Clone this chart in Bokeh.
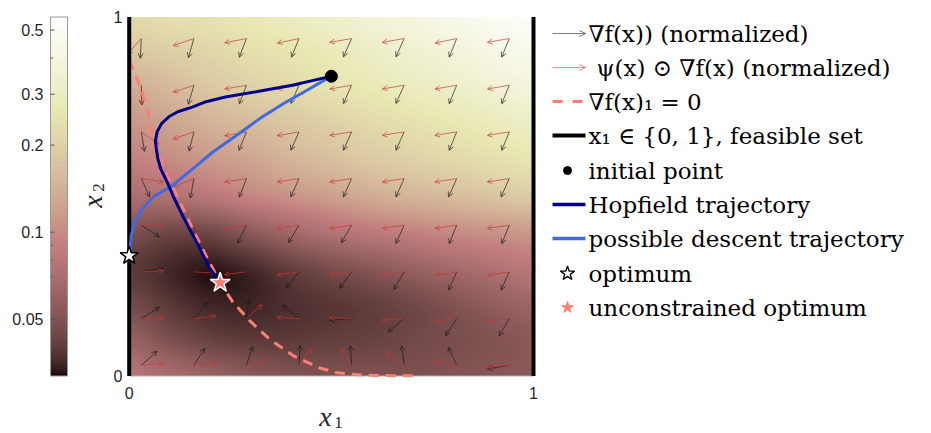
import numpy as np
from bokeh.plotting import figure
from bokeh.models import Range1d, Arrow, OpenHead, ColumnDataSource
from bokeh.core.properties import value
from bokeh.embed import file_html
from bokeh.resources import INLINE

# ---------------- data ----------------
GRID_NODES = [0.0, 0.1, 0.2, 0.3, 0.4, 0.5, 0.6, 0.7, 0.8, 0.9, 1.0]
# f(x) on the grid, rows from x2 = 1.0 (top) down to x2 = 0.0, columns x1 = 0 .. 1
F_GRID = [
    [0.222, 0.235, 0.249, 0.271, 0.296, 0.331, 0.361, 0.394, 0.442, 0.481, 0.524],
    [0.177, 0.192, 0.210, 0.235, 0.256, 0.279, 0.313, 0.341, 0.372, 0.417, 0.454],
    [0.133, 0.153, 0.177, 0.198, 0.222, 0.249, 0.271, 0.296, 0.322, 0.351, 0.383],
    [0.109, 0.122, 0.141, 0.157, 0.177, 0.198, 0.222, 0.242, 0.264, 0.287, 0.313],
    [0.0916, 0.0998, 0.112, 0.125, 0.145, 0.162, 0.182, 0.198, 0.216, 0.235, 0.256],
    [0.0708, 0.0749, 0.0817, 0.0942, 0.106, 0.118, 0.133, 0.145, 0.157, 0.172, 0.187],
    [0.0488, 0.0440, 0.0448, 0.0540, 0.0650, 0.0760, 0.0840, 0.0916, 0.0998, 0.106, 0.112],
    [0.0400, 0.0355, 0.0330, 0.0356, 0.0415, 0.0474, 0.0532, 0.0596, 0.0668, 0.0749, 0.0840],
    [0.0461, 0.0390, 0.0350, 0.0348, 0.0370, 0.0388, 0.0411, 0.0448, 0.0502, 0.0562, 0.0631],
    [0.0596, 0.0488, 0.0423, 0.0399, 0.0399, 0.0411, 0.0423, 0.0448, 0.0474, 0.0502, 0.0532],
    [0.0793, 0.0688, 0.0596, 0.0532, 0.0502, 0.0488, 0.0488, 0.0488, 0.0502, 0.0517, 0.0532],
]
CBAR_MIN, CBAR_MAX = 0.0318, 0.555
CBAR_TICKS = [0.05, 0.1, 0.2, 0.3, 0.5]
CBAR_TICK_LABELS = ["0.05", "0.1", "0.2", "0.3", "0.5"]
CBAR_MINOR = [0.04, 0.06, 0.07, 0.08, 0.09, 0.4]

# quiver grid (same positions for x1 and x2)
Q_POS = [0.03, 0.16, 0.29, 0.42, 0.55, 0.68, 0.81, 0.94]
# arrow directions in degrees (counter-clockwise from +x1), rows from x2 = 0.94 down to 0.03
GRAD_ANGLE = [
    [-93, -106, -111, -112, -114, -114, -112, -112],
    [-88, -106, -111, -114, -114, -114, -112, -112],
    [-81, -104, -112, -114, -114, -114, -112, -112],
    [-66, -100, -111, -114, -114, -114, -114, -114],
    [-33, -80, -116, -121, -120, -114, -112, -112],
    [8, -15, -129, -129, -126, -120, -114, -114],
    [32, 50, 82, 141, -175, -140, -123, -120],
    [42, 57, 72, 87, 93, 97, 115, -170],
]
PSI_ANGLE = [
    [-131, -161, -169, -168, -170, -170, -168, -170],
    [-90, -161, -170, -170, -170, -170, -170, -170],
    [-35, -161, -170, -170, -171, -171, -171, -171],
    [-9, -158, -171, -171, -171, -171, -171, -171],
    [0, -75, -171, -172, -172, -172, -172, -172],
    [3, -3, -173, -172, -173, -171, -171, -171],
    [2, 7, 42, 177, 178, -176, -173, -173],
    [4, 6, 16, 55, 123, 147, 171, -175],
]
ARROW_LEN = 0.055

HOP_X1 = [0.500, 0.450, 0.403, 0.321, 0.238, 0.190, 0.156, 0.120, 0.098, 0.080, 0.069, 0.065,
          0.067, 0.071, 0.078, 0.094, 0.110, 0.136, 0.169, 0.198, 0.225]
HOP_X2 = [0.835, 0.822, 0.810, 0.793, 0.777, 0.764, 0.749, 0.736, 0.722, 0.703, 0.680, 0.655,
          0.633, 0.605, 0.577, 0.540, 0.498, 0.438, 0.368, 0.302, 0.260]
DESC_X1 = [0.500, 0.469, 0.440, 0.382, 0.323, 0.265, 0.207, 0.157, 0.107, 0.061,
           0.032, 0.013, 0.005, 0.002, 0.000]
DESC_X2 = [0.835, 0.815, 0.796, 0.759, 0.717, 0.670, 0.624, 0.577, 0.531, 0.500,
           0.466, 0.428, 0.391, 0.354, 0.335]
DASH_X1 = [0.000, 0.028, 0.047, 0.057, 0.098, 0.157, 0.190, 0.225, 0.257, 0.298,
           0.348, 0.407, 0.469, 0.515, 0.580, 0.650, 0.710]
DASH_X2 = [0.880, 0.805, 0.735, 0.656, 0.549, 0.410, 0.335, 0.260, 0.205, 0.154,
           0.102, 0.056, 0.023, 0.009, 0.002, 0.001, 0.001]
INIT_PT = (0.5, 0.835)
OPT_PT = (0.0, 0.335)
UNC_OPT_PT = (0.225, 0.26)
FEASIBLE_X1 = [0.0, 1.0]

LEGEND_LABELS = [
    "\u2207f(x)) (normalized)",
    "\u03c8(x) \u2299 \u2207f(x) (normalized)",
    "\u2207f(x)\u2081 = 0",
    "x\u2081 \u2208 {0, 1}, feasible set",
    "initial point",
    "Hopfield trajectory",
    "possible descent trajectory",
    "optimum",
    "unconstrained optimum",
]

# ---------------- styles ----------------
NAVY = "#00008b"
ROYAL = "#4169e1"
SALMON = "#fa8072"
ARROW_BLACK = "#1a1a1a"
ARROW_RED = "#c83737"
SERIF = value("DejaVu Serif")
ITALIC_SERIF = value("Liberation Serif")
SANS = value("Liberation Sans")

# canvas geometry: x1=0 at px 128.7, x1=1 at px 533; x2=0 at px 375.5, x2=1 at px 16.5
PX_X0, PX_PER_X = 128.7, 404.3
PX_Y0, PX_PER_Y = 375.5, 359.0
W, H = 931, 433


def dx(px):
    return (px - PX_X0) / PX_PER_X


def dy(py):
    return (PX_Y0 - py) / PX_PER_Y


def matlab_pink(m=64):
    n = int(3 * m / 8)
    r = np.concatenate([np.arange(1, n + 1) / n, np.ones(m - n)])
    g = np.concatenate([np.zeros(n), np.arange(1, n + 1) / n, np.ones(m - 2 * n)])
    b = np.concatenate([np.zeros(2 * n), np.arange(1, m - 2 * n + 1) / (m - 2 * n)])
    gray = np.linspace(0, 1, m)
    hot = np.stack([r, g, b], axis=1)
    return np.sqrt((2 * gray[:, None] + hot) / 3)


CMAP64 = matlab_pink(64)
_pos64 = np.linspace(0, 1, 64)
_pos = np.linspace(0, 1, 512)
CMAP = np.stack([np.interp(_pos, _pos64, CMAP64[:, k]) for k in range(3)], axis=1)


def to_rgba(tvals):
    idx = np.clip(np.round(tvals * 511).astype(int), 0, 511)
    rgb = (CMAP[idx] * 255).round().astype(np.uint8)
    out = np.empty(tvals.shape, dtype=np.uint32)
    v = out.view(dtype=np.uint8).reshape(tvals.shape + (4,))
    v[..., :3] = rgb
    v[..., 3] = 255
    return out


def cubic_matrix(n_nodes, n_out):
    # shading-interp style smooth resampling of the grid for display
    u = (np.arange(n_out) + 0.5) / n_out * (n_nodes - 1)
    i = np.clip(np.floor(u).astype(int), 0, n_nodes - 2)
    s = u - i
    w = [(-s**3 + 2 * s**2 - s) / 2, (3 * s**3 - 5 * s**2 + 2) / 2,
         (-3 * s**3 + 4 * s**2 + s) / 2, (s**3 - s**2) / 2]
    M = np.zeros((n_out, n_nodes))
    rows = np.arange(n_out)
    for k, off in enumerate([-1, 0, 1, 2]):
        np.add.at(M, (rows, np.clip(i + off, 0, n_nodes - 1)), w[k])
    return M


lmin, lmax = np.log10(CBAR_MIN), np.log10(CBAR_MAX)


def tpos(v):
    return (np.log10(v) - lmin) / (lmax - lmin)


# ---------------- figure ----------------
p = figure(width=W, height=H, output_backend="svg", toolbar_location=None,
           x_range=Range1d(dx(0), dx(W)), y_range=Range1d(dy(H), dy(0)),
           x_axis_location=None, y_axis_location=None, min_border=0)
p.grid.visible = False
p.outline_line_color = None
p.background_fill_color = "white"
p.border_fill_color = "white"

# heat map
G = tpos(np.array(F_GRID)[::-1])
nx, ny = 404, 359
T = cubic_matrix(len(GRID_NODES), ny) @ G @ cubic_matrix(len(GRID_NODES), nx).T
T = np.clip(T, 0, 1)
p.image_rgba(image=[to_rgba(T)], x=GRID_NODES[0], y=GRID_NODES[0],
             dw=GRID_NODES[-1] - GRID_NODES[0], dh=GRID_NODES[-1] - GRID_NODES[0],
             level="image")

# bottom axis line
p.line(x=[0, 1], y=[0, 0], line_color="#b0b0b0", line_width=1)


# quiver arrows
def quiver(angles, color):
    xs, ys, xe, ye = [], [], [], []
    for r, row in enumerate(angles):
        for c, a in enumerate(row):
            th = np.deg2rad(a)
            vx, vy = np.cos(th) / PX_PER_X, np.sin(th) / PX_PER_Y
            nrm = np.hypot(vx, vy)
            x0, y0 = Q_POS[c], Q_POS[len(Q_POS) - 1 - r]
            xs.append(x0)
            ys.append(y0)
            xe.append(x0 + ARROW_LEN * vx / nrm)
            ye.append(y0 + ARROW_LEN * vy / nrm)
    src = ColumnDataSource(dict(xs=xs, ys=ys, xe=xe, ye=ye))
    p.add_layout(Arrow(end=OpenHead(size=5, line_color=color, line_width=0.8, line_alpha=0.85),
                       x_start="xs", y_start="ys", x_end="xe", y_end="ye", source=src,
                       line_color=color, line_width=0.8, line_alpha=0.85, level="underlay"))


quiver(GRAD_ANGLE, ARROW_BLACK)
quiver(PSI_ANGLE, ARROW_RED)

# dashed curve grad_1 = 0
p.line(DASH_X1, DASH_X2, line_color=SALMON, line_width=3, line_dash="10 7")

# feasible set
for xv in FEASIBLE_X1:
    p.line(x=[xv, xv], y=[0, 1], line_color="black", line_width=4)

# trajectories
p.line(DESC_X1, DESC_X2, line_color=ROYAL, line_width=3)
p.line(HOP_X1, HOP_X2, line_color=NAVY, line_width=3, line_join="round")

# markers
p.scatter([INIT_PT[0]], [INIT_PT[1]], marker="circle", size=12, fill_color="black", line_color="black")
p.scatter([OPT_PT[0]], [OPT_PT[1]], marker="star", size=19, fill_color="white", line_color="black", line_width=1.5)
p.scatter([UNC_OPT_PT[0]], [UNC_OPT_PT[1]], marker="star", size=21, fill_color=SALMON, line_color="white", line_width=1.5)

# main tick labels
tick_col = "#262626"
p.text(x=[dx(122), dx(122)], y=[1, 0], text=["1", "0"], text_font=SANS, text_font_size="16px",
       text_align="right", text_baseline="middle", text_color=tick_col)
p.text(x=[0, 1], y=[dy(392), dy(392)], text=["0", "1"], text_font=SANS, text_font_size="16px",
       text_align="center", text_baseline="middle", text_color=tick_col)

# axis labels
p.text(x=[dx(325)], y=[dy(416)], text=["x"], text_font=ITALIC_SERIF, text_font_style="italic",
       text_font_size="28px", text_align="center", text_baseline="middle", text_color=tick_col)
p.text(x=[dx(338)], y=[dy(422)], text=["1"], text_font=ITALIC_SERIF, text_font_size="17px",
       text_align="center", text_baseline="middle", text_color=tick_col)
p.text(x=[dx(92)], y=[dy(201)], text=["x"], text_font=ITALIC_SERIF, text_font_style="italic",
       text_font_size="28px", text_align="center", text_baseline="middle", angle=np.pi / 2,
       text_color=tick_col)
p.text(x=[dx(98)], y=[dy(187)], text=["2"], text_font=ITALIC_SERIF, text_font_size="17px",
       text_align="center", text_baseline="middle", angle=np.pi / 2, text_color=tick_col)

# colour bar
cb_l, cb_r = dx(50), dx(67)
cbar = to_rgba((np.arange(256)[:, None] + 0.5) / 256)
p.image_rgba(image=[cbar], x=cb_l, y=0, dw=cb_r - cb_l, dh=1, level="image")
p.quad(left=[cb_l], right=[cb_r], bottom=[0], top=[1], fill_color=None,
       line_color="#9a9a9a", line_width=1)
maj_y = [float(tpos(v)) for v in CBAR_TICKS]
min_y = [float(tpos(v)) for v in CBAR_MINOR]
p.segment(x0=[cb_l] * len(maj_y), x1=[cb_l + 4 / PX_PER_X] * len(maj_y), y0=maj_y, y1=maj_y,
          line_color="#555555", line_width=1)
p.segment(x0=[cb_l] * len(min_y), x1=[cb_l + 2.5 / PX_PER_X] * len(min_y), y0=min_y, y1=min_y,
          line_color="#666666", line_width=1)
p.text(x=[dx(43)] * len(maj_y), y=maj_y, text=CBAR_TICK_LABELS, text_font=SANS,
       text_font_size="16px", text_align="right", text_baseline="middle", text_color=tick_col)

# legend
rows_px = [33, 67, 101, 135, 170, 204, 238, 273, 307]
ry = [dy(v) for v in rows_px]
s0, s1, sc = dx(552), dx(585), dx(567)
tx = [dx(588)] * len(LEGEND_LABELS)
tx[1] = dx(596)
for k, col in enumerate([ARROW_BLACK, ARROW_RED]):
    src = ColumnDataSource(dict(xs=[s0], ys=[ry[k]], xe=[s1], ye=[ry[k]]))
    p.add_layout(Arrow(end=OpenHead(size=6, line_color=col, line_width=0.8, line_alpha=0.7),
                       x_start="xs", y_start="ys", x_end="xe", y_end="ye", source=src,
                       line_color=col, line_width=0.8, line_alpha=0.7))
p.line([s0, s1], [ry[2], ry[2]], line_color=SALMON, line_width=3, line_dash="10 10")
p.line([s0, s1], [ry[3], ry[3]], line_color="black", line_width=4)
p.scatter([sc], [ry[4]], marker="circle", size=8, fill_color="black", line_color="black")
p.line([s0, s1], [ry[5], ry[5]], line_color=NAVY, line_width=3.5)
p.line([s0, s1], [ry[6], ry[6]], line_color=ROYAL, line_width=3.5)
p.scatter([sc], [ry[7]], marker="star", size=15, fill_color="white", line_color="black", line_width=1.3)
p.scatter([sc], [ry[8]], marker="star", size=12, fill_color=SALMON, line_color=SALMON)
p.text(x=tx, y=ry, text=LEGEND_LABELS, text_font=SERIF,
       text_font_size="23px", text_align="left", text_baseline="middle", text_color="black")

open("out.html", "w").write(file_html(p, INLINE))
